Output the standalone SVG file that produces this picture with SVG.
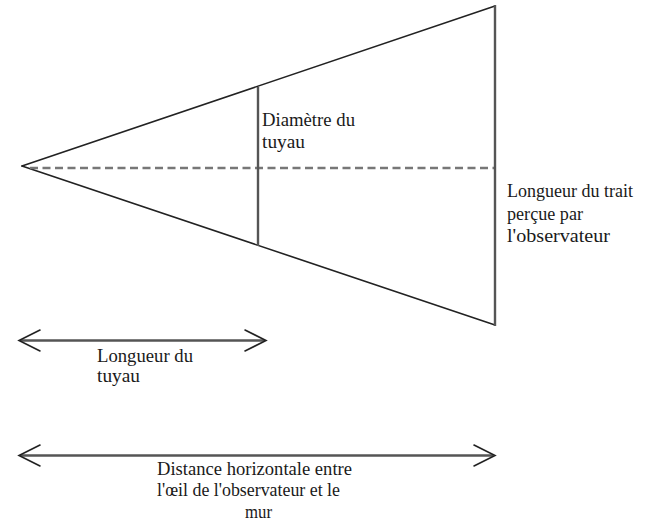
<svg xmlns="http://www.w3.org/2000/svg" width="649" height="524" viewBox="0 0 649 524">
  <style>
    .edge { stroke: #222; stroke-width: 1.6; fill: none; stroke-linecap: round; }
    .bar { stroke: #555; stroke-width: 2.4; fill: none; }
    .dash { stroke: #777; stroke-width: 2.6; fill: none; stroke-dasharray: 8 4.5; }
    .dim { stroke: #555; stroke-width: 2.6; fill: none; }
    .head { stroke: #222; stroke-width: 1.6; fill: none; stroke-linecap: round; stroke-linejoin: miter; }
    .lbl { font-family: "Liberation Serif", "Times New Roman", serif; font-size: 18px; fill: #1a1a1a; }
  </style>
  <rect width="649" height="524" fill="#ffffff"/>

  <g id="cone">
    <line class="edge" x1="22" y1="166" x2="495" y2="6"/>
    <line class="edge" x1="22" y1="166" x2="495" y2="325"/>
    <line class="dash" x1="30" y1="168" x2="495" y2="168"/>
    <line class="bar" x1="495" y1="5" x2="495" y2="326"/>
    <line class="bar" x1="258" y1="87" x2="258" y2="246"/>
  </g>

  <g id="label-diametre">
    <text class="lbl" x="262" y="126" textLength="93" lengthAdjust="spacingAndGlyphs">Diamètre du</text>
    <text class="lbl" x="262" y="148" textLength="43" lengthAdjust="spacingAndGlyphs">tuyau</text>
  </g>

  <g id="label-trait">
    <text class="lbl" x="507" y="197" textLength="126" lengthAdjust="spacingAndGlyphs">Longueur du trait</text>
    <text class="lbl" x="507" y="220" textLength="76" lengthAdjust="spacingAndGlyphs">perçue par</text>
    <text class="lbl" x="507" y="242" textLength="103" lengthAdjust="spacingAndGlyphs">l'observateur</text>
  </g>

  <g id="connectors">
    <g id="dim-tuyau">
      <line class="dim" x1="20" y1="340.5" x2="265" y2="340.5"/>
      <polyline class="head" points="40,330 19,340.5 40,351"/>
      <polyline class="head" points="245,330 266,340.5 245,351"/>
    </g>
    <g id="dim-distance">
      <line class="dim" x1="20" y1="455.5" x2="493" y2="455.5"/>
      <polyline class="head" points="40,445 19,455.5 40,466"/>
      <polyline class="head" points="474,445 495,455.5 474,466"/>
    </g>
  </g>

  <g id="label-longueur-tuyau">
    <text class="lbl" x="97" y="362" textLength="96" lengthAdjust="spacingAndGlyphs">Longueur du</text>
    <text class="lbl" x="97" y="382" textLength="43" lengthAdjust="spacingAndGlyphs">tuyau</text>
  </g>

  <g id="label-distance">
    <text class="lbl" x="157" y="475" textLength="195" lengthAdjust="spacingAndGlyphs">Distance horizontale entre</text>
    <text class="lbl" x="157" y="496" textLength="183" lengthAdjust="spacingAndGlyphs">l'œil de l'observateur et le</text>
    <text class="lbl" x="245" y="518" textLength="27" lengthAdjust="spacingAndGlyphs">mur</text>
  </g>
</svg>
